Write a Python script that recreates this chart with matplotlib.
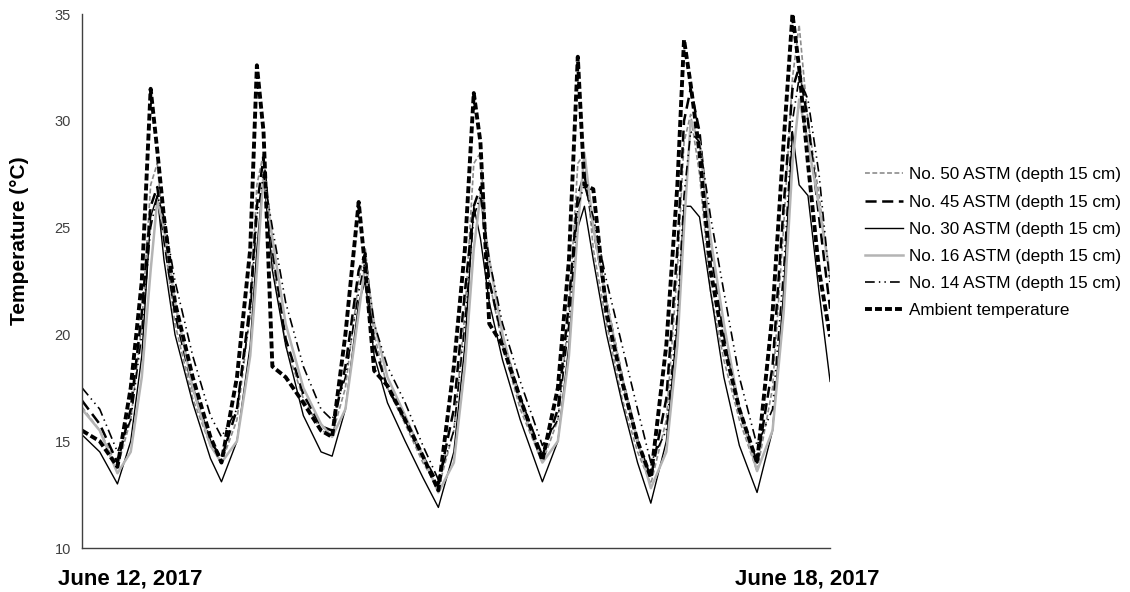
import numpy as np
import matplotlib
matplotlib.use("Agg")
import matplotlib.pyplot as plt

plt.rcParams['font.family'] = ['Liberation Sans', 'DejaVu Sans']
plt.rcParams['lines.scale_dashes'] = False

# hours since June 12, 2017 00:00
hours = [0, 4, 8, 11, 13.5, 15.5, 17, 18.5, 21, 25, 29, 31.5,
         35, 38, 39.5, 41, 43, 46, 50, 54, 56.5,
         59.5, 62.5, 64, 66, 69, 73, 77, 80.5,
         84, 86.5, 88.5, 90, 92, 95, 99, 104,
         107.5, 110, 112, 113.5, 115.5, 118.5, 122, 125.5, 128.5,
         132, 134.5, 136, 137.5, 139.5, 142, 145, 148.5, 152.5,
         156, 158.5, 160.5, 162, 164, 166.5, 169]

no50 = [16.6, 15.5, 13.8, 16.0, 20.5, 27.0, 28.0, 24.5, 20.5, 17.0, 14.8, 14.0,
        16.0, 21.0, 27.0, 28.5, 23.5, 19.5, 17.0, 15.5, 15.3,
        17.5, 22.5, 24.0, 20.0, 17.5, 15.8, 14.0, 12.8,
        15.5, 21.0, 28.0, 28.5, 22.5, 19.5, 16.5, 14.0,
        16.0, 21.0, 28.0, 28.5, 24.0, 20.5, 17.0, 14.5, 13.0,
        16.0, 23.0, 29.0, 30.3, 27.5, 22.0, 18.8, 16.0, 13.6,
        17.5, 25.0, 32.0, 34.5, 30.0, 26.5, 22.5]

no45 = [16.9, 15.8, 14.0, 16.5, 21.0, 26.0, 26.9, 24.5, 21.0, 17.5, 15.0, 14.2,
        16.5, 21.5, 26.0, 28.3, 24.0, 19.8, 17.2, 15.7, 15.5,
        18.5, 23.0, 23.8, 19.5, 17.5, 16.0, 14.3, 13.0,
        16.5, 22.0, 26.0, 26.9, 22.5, 19.8, 17.0, 14.3,
        16.5, 21.5, 26.5, 27.5, 25.0, 21.5, 18.0, 15.0, 13.3,
        17.0, 24.0, 30.0, 31.5, 29.5, 24.0, 20.0, 16.5, 14.0,
        18.5, 26.0, 31.5, 32.5, 30.0, 25.5, 21.2]

no30 = [15.3, 14.5, 13.0, 15.0, 19.0, 25.5, 26.5, 23.5, 20.0, 16.8, 14.2, 13.1,
        15.0, 19.5, 24.0, 27.5, 23.0, 19.5, 16.2, 14.5, 14.3,
        16.5, 21.5, 22.5, 19.0, 16.8, 15.0, 13.3, 11.9,
        14.5, 19.5, 26.0, 24.5, 21.5, 18.8, 16.0, 13.1,
        15.0, 19.5, 25.0, 26.0, 23.5, 20.0, 16.8, 14.0, 12.1,
        15.0, 20.5, 26.0, 26.0, 25.5, 22.0, 18.0, 14.8, 12.6,
        15.5, 22.0, 29.5, 27.0, 26.5, 22.0, 17.8]

no16 = [16.5, 15.5, 13.5, 14.5, 18.0, 23.0, 26.3, 25.0, 21.5, 17.5, 14.8, 14.0,
        15.0, 19.0, 23.0, 27.5, 24.5, 20.5, 17.5, 15.8, 15.2,
        16.5, 21.0, 23.3, 20.5, 18.0, 16.2, 14.3, 12.6,
        14.0, 18.5, 24.0, 26.5, 23.5, 20.0, 16.8, 14.0,
        15.0, 19.0, 25.0, 28.5, 25.0, 21.5, 18.0, 15.0, 12.8,
        14.5, 19.5, 25.0, 30.0, 29.0, 24.5, 20.5, 16.5, 13.6,
        15.5, 21.0, 28.0, 31.0, 29.0, 26.0, 22.8]

no14 = [17.5, 16.5, 14.5, 16.0, 20.0, 25.0, 26.5, 25.5, 22.5, 19.0, 16.2, 15.2,
        16.5, 21.0, 25.5, 27.5, 25.0, 21.5, 18.5, 16.5, 16.0,
        18.0, 22.0, 23.5, 20.5, 18.5, 16.8, 14.8, 13.2,
        15.5, 20.5, 25.5, 26.5, 23.5, 20.5, 17.8, 14.8,
        16.0, 20.5, 26.0, 27.0, 25.5, 22.5, 19.5, 16.5, 14.0,
        15.5, 21.0, 26.5, 29.5, 29.0, 25.5, 22.0, 18.0, 14.8,
        16.5, 23.0, 30.0, 32.0, 31.0, 27.5, 22.3]

ambient = [15.5, 15.0, 13.8, 17.5, 22.5, 31.5, 28.6, 25.5, 21.5, 18.0, 15.2, 14.0,
           18.0, 24.0, 32.6, 29.5, 18.5, 18.0, 16.8, 15.5, 15.2,
           20.0, 26.2, 23.0, 18.3, 17.6, 16.0, 14.3, 12.7,
           18.5, 24.0, 31.3, 29.0, 20.5, 19.5, 17.0, 14.1,
           17.5, 23.5, 33.0, 27.0, 26.8, 21.0, 17.8, 15.0, 13.3,
           19.5, 27.0, 33.8, 31.7, 28.5, 23.0, 19.5, 16.5, 14.0,
           21.0, 29.0, 35.0, 32.5, 28.0, 23.0, 19.9]

labels = ["No. 50 ASTM (depth 15 cm)", "No. 45 ASTM (depth 15 cm)",
          "No. 30 ASTM (depth 15 cm)", "No. 16 ASTM (depth 15 cm)",
          "No. 14 ASTM (depth 15 cm)", "Ambient temperature"]

fig = plt.figure(figsize=(11.3, 5.92), dpi=100)
ax = fig.add_axes([0.0726, 0.0743, 0.662, 0.902])

t = np.array(hours)
ax.plot(t, no50, color="#8c8c8c", lw=1.2, dashes=(3.5, 1.8), label=labels[0])
ax.plot(t, no45, color="black", lw=1.8, dashes=(8, 4), label=labels[1])
ax.plot(t, no30, color="black", lw=1.0, label=labels[2])
ax.plot(t, no16, color="#b4b4b4", lw=1.8, label=labels[3])
ax.plot(t, no14, color="black", lw=1.2, dashes=(7, 3, 1, 3, 1, 3), label=labels[4])
ax.plot(t, ambient, color="black", lw=2.8, dashes=(5, 2.2), label=labels[5])

ax.set_xlim(0, 169)
ax.set_ylim(10, 35)
ax.set_yticks([10, 15, 20, 25, 30, 35])
ax.set_xticks([])
ax.tick_params(axis="y", length=0, labelsize=10.5, labelcolor="#404040", pad=8)
for s in ["top", "right"]:
    ax.spines[s].set_visible(False)
for s in ["left", "bottom"]:
    ax.spines[s].set_color("#404040")
    ax.spines[s].set_linewidth(1.0)

ax.set_ylabel("Temperature (°C)", fontsize=15, fontweight="bold")
ax.yaxis.set_label_coords(-0.071, 0.575)

narrow = ["Liberation Sans Narrow", "Liberation Sans"]
fig.text(0.051, 0.013, "June 12, 2017", fontsize=16, fontweight="bold",
         family=narrow, ha="left", va="baseline")
fig.text(0.778, 0.013, "June 18, 2017", fontsize=16, fontweight="bold",
         family=narrow, ha="right", va="baseline")

ax.legend(loc="center left", bbox_to_anchor=(865 / 1130, 0.590),
          bbox_transform=fig.transFigure, frameon=False, borderpad=0,
          borderaxespad=0, fontsize=12.3, handlelength=2.2,
          handletextpad=0.35, labelspacing=0.71)

fig.savefig("out.png", dpi=100)
